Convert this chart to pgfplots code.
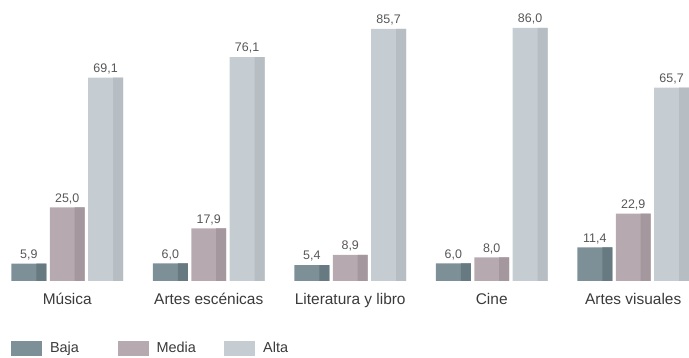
\documentclass[border=0pt]{standalone}
\usepackage{pgfplots}
\pgfplotsset{compat=1.18}
\usepackage{fontspec}
\setmainfont{Liberation Sans}
\definecolor{bajaC}{HTML}{7D9098}
\definecolor{bajaD}{HTML}{677981}
\definecolor{mediaC}{HTML}{B6AAB0}
\definecolor{mediaD}{HTML}{A4979E}
\definecolor{altaC}{HTML}{C5CCD2}
\definecolor{altaD}{HTML}{B6BDC3}
\definecolor{txt}{HTML}{3A3A3A}
\begin{document}
\begin{tikzpicture}
\begin{axis}[
  scale only axis, width=689pt, height=282pt,
  xmin=-0.4754, xmax=4.3768, ymin=0, ymax=95.5,
  axis line style={draw=none}, tick style={draw=none},
  ytick=\empty,
  xtick={0,1,2,3,4},
  xticklabels={Música, Artes escénicas, Literatura y libro, Cine, Artes visuales},
  xticklabel style={font=\fontsize{15.5}{18}\selectfont, text=txt, yshift=-9pt},
  clip=false,
  every node near coord/.append style={font=\fontsize{12.5}{15}\selectfont, text=txt!85},
  /pgf/number format/.cd, fixed, fixed zerofill, precision=1, use comma, assume math mode=true,
  /pgfplots/.cd,
  legend columns=3,
  legend style={at={(0,0)}, anchor=north west, xshift=11pt, yshift=-60pt, draw=none, fill=none, inner sep=0pt, nodes={inner sep=0pt}, font=\fontsize{14.5}{17}\selectfont, text=txt, /tikz/every even column/.append style={column sep=0pt}},
  legend image code/.code={\fill[#1] (0pt,-7.5pt) rectangle (31pt,7.5pt);},
]
% main bars (x = category index + offset)
\addplot[ybar, nodes near coords, bar width=0.2465, bar shift=0, fill=bajaC, draw=none] coordinates {(-0.2711,5.9) (0.7289,6.0) (1.7289,5.4) (2.7289,6.0) (3.7289,11.4)};
\addlegendentry{\hspace{8pt}\makebox[68pt][l]{Baja}}
\addplot[ybar, nodes near coords, bar width=0.2465, bar shift=0, fill=mediaC, draw=none] coordinates {(0,25.0) (1,17.9) (2,8.9) (3,8.0) (4,22.9)};
\addlegendentry{\hspace{8pt}\makebox[68pt][l]{Media}}
\addplot[ybar, nodes near coords, bar width=0.2465, bar shift=0, fill=altaC, draw=none] coordinates {(0.2711,69.1) (1.2711,76.1) (2.2711,85.7) (3.2711,86.0) (4.2711,65.7)};
\addlegendentry{\hspace{8pt}\makebox[68pt][l]{Alta}}
% darker right-hand strips
\addplot[ybar, forget plot, bar width=0.0704, bar shift=0, fill=bajaD, draw=none] coordinates {(-0.1831,5.9) (0.8169,6.0) (1.8169,5.4) (2.8169,6.0) (3.8169,11.4)};
\addplot[ybar, forget plot, bar width=0.0704, bar shift=0, fill=mediaD, draw=none] coordinates {(0.0880,25.0) (1.0880,17.9) (2.0880,8.9) (3.0880,8.0) (4.0880,22.9)};
\addplot[ybar, forget plot, bar width=0.0704, bar shift=0, fill=altaD, draw=none] coordinates {(0.3591,69.1) (1.3591,76.1) (2.3591,85.7) (3.3591,86.0) (4.3591,65.7)};
\end{axis}
\path[use as bounding box] (0,-77pt) rectangle (689pt,282pt);
\end{tikzpicture}
\end{document}
